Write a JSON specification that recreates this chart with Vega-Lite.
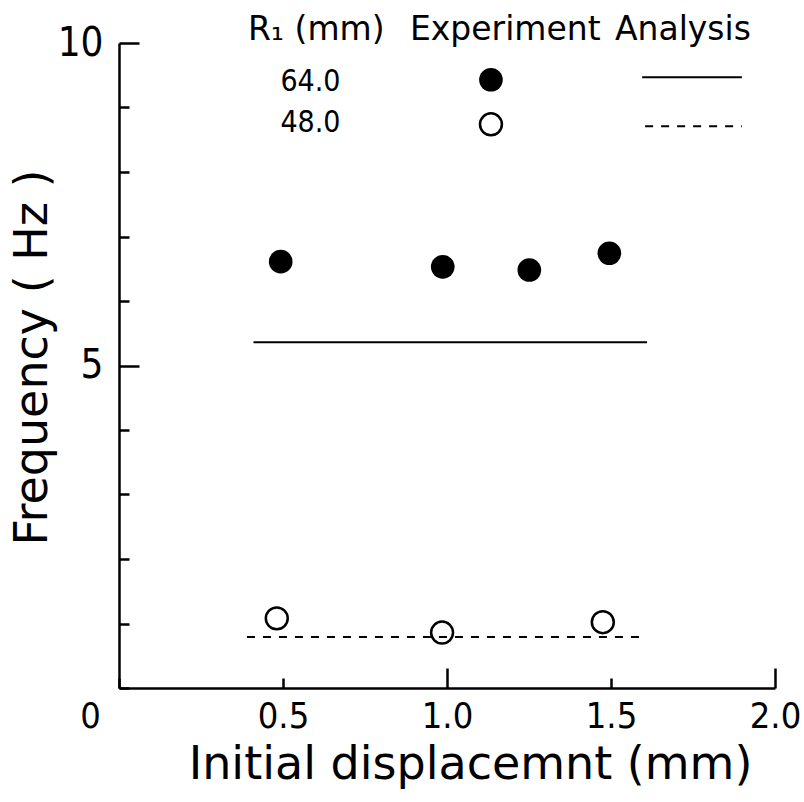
{
  "$schema": "https://vega.github.io/schema/vega-lite/v6.json",
  "autosize": {"type": "none"},
  "padding": {"left": 119, "top": 43, "right": 29, "bottom": 114},
  "width": 656,
  "height": 645,
  "background": "white",
  "config": {
    "view": {"stroke": null},
    "font": "DejaVu Sans"
  },
  "datasets": {
    "points": [
      {"disp": 0.493, "freq": 6.61, "R1": "64.0"},
      {"disp": 0.987, "freq": 6.53, "R1": "64.0"},
      {"disp": 1.251, "freq": 6.48, "R1": "64.0"},
      {"disp": 1.495, "freq": 6.74, "R1": "64.0"},
      {"disp": 0.481, "freq": 1.08, "R1": "48.0"},
      {"disp": 0.985, "freq": 0.86, "R1": "48.0"},
      {"disp": 1.475, "freq": 1.02, "R1": "48.0"}
    ],
    "lines": [
      {"disp": 0.41, "freq": 5.36, "group": "a64", "style": "solid"},
      {"disp": 1.61, "freq": 5.36, "group": "a64", "style": "solid"},
      {"disp": 0.39, "freq": 0.79, "group": "a48", "style": "dashed"},
      {"disp": 1.60, "freq": 0.79, "group": "a48", "style": "dashed"},
      {"disp": 1.595, "freq": 9.47, "group": "l64", "style": "solid"},
      {"disp": 1.899, "freq": 9.47, "group": "l64", "style": "solid"},
      {"disp": 1.604, "freq": 8.71, "group": "l48", "style": "dashed"},
      {"disp": 1.899, "freq": 8.71, "group": "l48", "style": "dashed"}
    ],
    "legendMarks": [
      {"disp": 1.134, "freq": 9.43, "R1": "64.0"},
      {"disp": 1.134, "freq": 8.74, "R1": "48.0"}
    ],
    "legendHeader": [
      {"disp": 0.393, "freq": 10.2, "label": "R₁ (mm)"},
      {"disp": 0.887, "freq": 10.2, "label": "Experiment"},
      {"disp": 1.512, "freq": 10.2, "label": "Analysis"}
    ],
    "legendRows": [
      {"disp": 0.492, "freq": 9.4, "label": "64.0"},
      {"disp": 0.492, "freq": 8.76, "label": "48.0"}
    ]
  },
  "layer": [
    {
      "data": {"name": "points"},
      "transform": [{"filter": "datum.R1 == '64.0'"}],
      "mark": {"type": "point", "shape": "circle", "filled": true, "color": "black", "size": 560, "opacity": 1},
      "encoding": {
        "x": {
          "field": "disp", "type": "quantitative",
          "scale": {"domain": [0, 2], "nice": false, "zero": false},
          "axis": {
            "title": "Initial displacemnt (mm)",
            "values": [0, 0.5, 1, 1.5, 2],
            "labelExpr": "datum.value == 0 ? '0' : format(datum.value, '.1f')",
            "grid": false,
            "domainColor": "black", "domainWidth": 2.5,
            "tickColor": "black", "tickWidth": 2.5,
            "tickSize": {"condition": {"test": "datum.value == 1 || datum.value == 2", "value": -20}, "value": -10},
            "labelFont": "DejaVu Sans Condensed, DejaVu Sans",
            "labelFontSize": 36, "labelColor": "black",
            "labelPadding": {"condition": {"test": "datum.value == 1 || datum.value == 2", "value": 31}, "value": 21},
            "labelOffset": {"condition": {"test": "datum.value == 0", "value": -29}, "value": 0},
            "labelFlush": false,
            "titleFont": "DejaVu Sans", "titleFontSize": 46, "titleFontWeight": "normal", "titleColor": "black",
            "titleX": 351, "titleY": 76, "titleBaseline": "middle", "titleAnchor": "middle", "titleAlign": "center"
          }
        },
        "y": {
          "field": "freq", "type": "quantitative",
          "scale": {"domain": [0, 10], "nice": false, "zero": false},
          "axis": {
            "title": "Frequency ( Hz )",
            "values": [0, 1, 2, 3, 4, 5, 6, 7, 8, 9, 10],
            "labelExpr": "datum.value == 5 || datum.value == 10 ? format(datum.value, 'd') : ''",
            "grid": false,
            "domainColor": "black", "domainWidth": 2.5,
            "tickColor": "black", "tickWidth": 2.5,
            "tickSize": {"condition": {"test": "datum.value == 5 || datum.value == 10", "value": -20}, "value": -10},
            "labelFont": "DejaVu Sans Condensed, DejaVu Sans",
            "labelFontSize": 40, "labelColor": "black",
            "labelPadding": 36,
            "labelFlush": false,
            "titleFont": "DejaVu Sans", "titleFontSize": 46, "titleFontWeight": "normal", "titleColor": "black",
            "titleX": -87, "titleY": 314, "titleBaseline": "middle", "titleAnchor": "middle", "titleAlign": "center", "titleAngle": -90
          }
        }
      }
    },
    {
      "data": {"name": "points"},
      "transform": [{"filter": "datum.R1 == '48.0'"}],
      "mark": {"type": "point", "shape": "circle", "filled": false, "color": "black", "strokeWidth": 2.5, "size": 480, "opacity": 1},
      "encoding": {
        "x": {"field": "disp", "type": "quantitative"},
        "y": {"field": "freq", "type": "quantitative"}
      }
    },
    {
      "data": {"name": "lines"},
      "transform": [{"filter": "datum.style == 'solid'"}],
      "mark": {"type": "line", "color": "black", "strokeWidth": 2},
      "encoding": {
        "x": {"field": "disp", "type": "quantitative"},
        "y": {"field": "freq", "type": "quantitative"},
        "detail": {"field": "group"}
      }
    },
    {
      "data": {"name": "lines"},
      "transform": [{"filter": "datum.style == 'dashed'"}],
      "mark": {"type": "line", "color": "black", "strokeWidth": 2, "strokeDash": [8, 8]},
      "encoding": {
        "x": {"field": "disp", "type": "quantitative"},
        "y": {"field": "freq", "type": "quantitative"},
        "detail": {"field": "group"}
      }
    },
    {
      "data": {"name": "legendMarks"},
      "transform": [{"filter": "datum.R1 == '64.0'"}],
      "mark": {"type": "point", "shape": "circle", "filled": true, "color": "black", "size": 560, "opacity": 1},
      "encoding": {
        "x": {"field": "disp", "type": "quantitative"},
        "y": {"field": "freq", "type": "quantitative"}
      }
    },
    {
      "data": {"name": "legendMarks"},
      "transform": [{"filter": "datum.R1 == '48.0'"}],
      "mark": {"type": "point", "shape": "circle", "filled": false, "color": "black", "strokeWidth": 2.5, "size": 480, "opacity": 1},
      "encoding": {
        "x": {"field": "disp", "type": "quantitative"},
        "y": {"field": "freq", "type": "quantitative"}
      }
    },
    {
      "data": {"name": "legendHeader"},
      "mark": {"type": "text", "align": "left", "baseline": "middle", "fontSize": 33, "font": "DejaVu Sans", "color": "black"},
      "encoding": {
        "x": {"field": "disp", "type": "quantitative"},
        "y": {"field": "freq", "type": "quantitative"},
        "text": {"field": "label"}
      }
    },
    {
      "data": {"name": "legendRows"},
      "mark": {"type": "text", "align": "left", "baseline": "middle", "fontSize": 30, "font": "DejaVu Sans Condensed, DejaVu Sans", "color": "black"},
      "encoding": {
        "x": {"field": "disp", "type": "quantitative"},
        "y": {"field": "freq", "type": "quantitative"},
        "text": {"field": "label"}
      }
    }
  ]
}
